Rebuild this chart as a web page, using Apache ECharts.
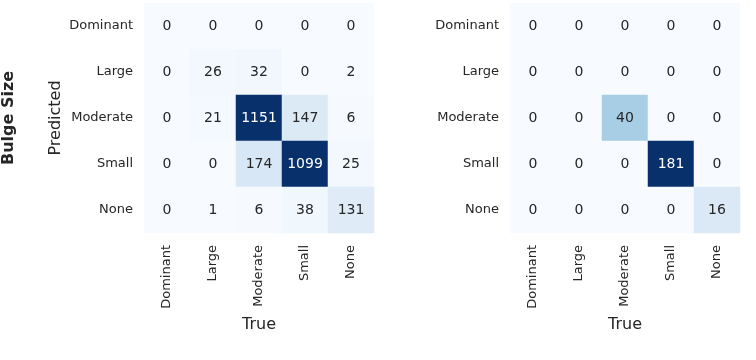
<!DOCTYPE html>
<html>
<head>
<meta charset="utf-8">
<script src="https://cdn.jsdelivr.net/npm/echarts@6/dist/echarts.min.js"></script>
<style>
  html, body { margin: 0; padding: 0; background: #fff; }
  #chart { width: 756px; height: 360px; }
</style>
</head>
<body>
<div id="chart"></div>
<script>
// Etiquetas de clase (eje verdadero y predicho)
const classes = ['Dominant', 'Large', 'Moderate', 'Small', 'None'];

// Matriz de confusión izquierda: filas = predicho, columnas = verdadero
const leftMatrix = [
    [0, 0, 0, 0, 0],
    [0, 26, 32, 0, 2],
    [0, 21, 1151, 147, 6],
    [0, 0, 174, 1099, 25],
    [0, 1, 6, 38, 131]
];

// Matriz de confusión derecha
const rightMatrix = [
    [0, 0, 0, 0, 0],
    [0, 0, 0, 0, 0],
    [0, 0, 40, 0, 0],
    [0, 0, 0, 181, 0],
    [0, 0, 0, 0, 16]
];

// Tope de la escala de colores de cada mapa
const leftMax = 1100;
const rightMax = 115;

// Paleta "Blues" de matplotlib
const blues = ['#f7fbff', '#deebf7', '#c6dbef', '#9ecae1', '#6baed6', '#4292c6', '#2171b5', '#08519c', '#08306b'];

const font = 'DejaVu Sans';

function toCells(matrix, vmax) {
    const cells = [];
    matrix.forEach((row, r) => {
        row.forEach((v, c) => {
            cells.push({
                value: [c, r, v],
                label: { color: v / vmax > 0.6 ? '#ffffff' : '#262626' }
            });
        });
    });
    return cells;
}

function xAxis(gridIndex) {
    return {
        type: 'category', gridIndex: gridIndex, data: classes,
        name: 'True', nameLocation: 'middle', nameGap: 84,
        nameTextStyle: { fontFamily: font, fontSize: 16, color: '#262626' },
        axisLine: { show: false }, axisTick: { show: false }, splitLine: { show: false },
        axisLabel: { rotate: 90, margin: 12, fontFamily: font, fontSize: 13, color: '#262626' }
    };
}

function yAxis(gridIndex, withName) {
    return {
        type: 'category', gridIndex: gridIndex, data: classes, inverse: true,
        name: withName ? 'Predicted' : '', nameLocation: 'middle', nameGap: 80, nameRotate: 90,
        nameTextStyle: { fontFamily: font, fontSize: 16, color: '#262626' },
        axisLine: { show: false }, axisTick: { show: false }, splitLine: { show: false },
        axisLabel: { margin: 11, fontFamily: font, fontSize: 13, color: '#262626' }
    };
}

const chart = echarts.init(document.getElementById('chart'));

const option = {
    backgroundColor: '#ffffff',
    animation: false,
    grid: [
        { left: 144, top: 3, width: 230, height: 230 },
        { left: 510, top: 3, width: 230, height: 230 }
    ],
    xAxis: [xAxis(0), xAxis(1)],
    yAxis: [yAxis(0, true), yAxis(1, false)],
    visualMap: [
        { show: false, seriesIndex: 0, dimension: 2, min: 0, max: leftMax, inRange: { color: blues } },
        { show: false, seriesIndex: 1, dimension: 2, min: 0, max: rightMax, inRange: { color: blues } }
    ],
    graphic: [{
        type: 'text', x: 9, y: 118, rotation: Math.PI / 2,
        style: {
            text: 'Bulge Size', fill: '#262626', font: 'bold 16px "DejaVu Sans"',
            align: 'center', verticalAlign: 'middle'
        }
    }],
    series: [
        {
            type: 'heatmap', xAxisIndex: 0, yAxisIndex: 0,
            data: toCells(leftMatrix, leftMax),
            label: { show: true, fontFamily: font, fontSize: 14 },
            itemStyle: { borderWidth: 0 }
        },
        {
            type: 'heatmap', xAxisIndex: 1, yAxisIndex: 1,
            data: toCells(rightMatrix, rightMax),
            label: { show: true, fontFamily: font, fontSize: 14 },
            itemStyle: { borderWidth: 0 }
        }
    ]
};

chart.setOption(option);
</script>
</body>
</html>
